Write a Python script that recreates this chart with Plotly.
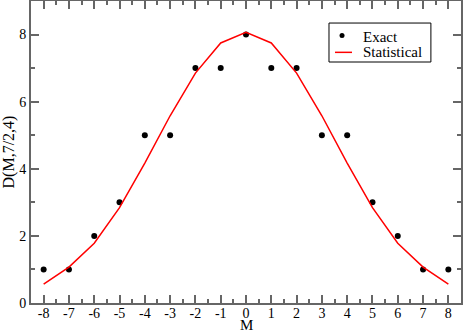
import plotly.graph_objects as go

# M values and the two series
m_values = list(range(-8, 9))
exact = [1, 1, 2, 3, 5, 5, 7, 7, 8, 7, 7, 5, 5, 3, 2, 1, 1]
statistical = [0.56, 1.07, 1.78, 2.84, 4.17, 5.58, 6.85, 7.75, 8.07,
               7.75, 6.85, 5.58, 4.17, 2.84, 1.78, 1.07, 0.56]
x_tick_labels = ["-8", "-7", "-6", "-5", "-4", "-3", "-2", "-1", "0",
                 "1", "2", "3", "4", "5", "6", "7", "8"]
y_tick_values = [0, 2, 4, 6, 8]

FONT = "Liberation Serif"
AXIS_COLOR = "#666666"

fig = go.Figure()
fig.add_trace(go.Scatter(
    x=m_values, y=exact, mode="markers", name="Exact",
    marker=dict(color="black", size=6),
))
fig.add_trace(go.Scatter(
    x=m_values, y=statistical, mode="lines", name="Statistical",
    line=dict(color="red", width=1.5),
))

axis_common = dict(
    showline=True, linecolor=AXIS_COLOR, linewidth=2, mirror="ticks",
    ticks="inside", tickcolor=AXIS_COLOR, tickwidth=1.5, ticklen=8,
    showgrid=False, zeroline=False, automargin=False,
    tickfont=dict(family=FONT, size=14, color="black"),
)

fig.update_xaxes(
    range=[-8.5, 8.5], tickmode="array", tickvals=m_values, ticktext=x_tick_labels,
    ticklabelstandoff=-4,
    minor=dict(dtick=0.5, tick0=-8, ticks="inside", ticklen=4, tickcolor=AXIS_COLOR, showgrid=False),
    **axis_common,
)
fig.update_yaxes(
    range=[0, 9], tickmode="array", tickvals=y_tick_values,
    title=dict(text="D(M,7/2,4)", font=dict(family=FONT, size=16, color="black"), standoff=3),
    minor=dict(dtick=1, tick0=0, ticks="inside", ticklen=4, tickcolor=AXIS_COLOR, showgrid=False),
    **axis_common,
)

# x-axis title placed by hand, tight under the tick labels as in the original
fig.add_annotation(
    text="M", xref="paper", yref="paper", x=0.5, y=0,
    xanchor="center", yanchor="bottom", yshift=-31, borderpad=0, showarrow=False,
    font=dict(family=FONT, size=15, color="black"),
)

# compact boxed legend in the upper right, drawn by hand so it stays as tight
# as the original (plotly's own legend rows are taller)
fig.add_shape(type="rect", xref="paper", yref="paper",
              x0=0.693, x1=0.930, y0=0.798, y1=0.927,
              line=dict(color="black", width=1), fillcolor="white", layer="above")
fig.add_shape(type="circle", xref="paper", yref="paper",
              xsizemode="pixel", ysizemode="pixel", xanchor=0.7233, yanchor=0.8858,
              x0=-2.5, x1=2.5, y0=-2.5, y1=2.5,
              line=dict(color="black", width=0), fillcolor="black", layer="above")
fig.add_shape(type="line", xref="paper", yref="paper",
              x0=0.707, x1=0.7465, y0=0.830, y1=0.830,
              line=dict(color="red", width=1.5), layer="above")
for label, y_pos in [("Exact", 0.882), ("Statistical", 0.831)]:
    fig.add_annotation(
        text=label, xref="paper", yref="paper", x=0.770, y=y_pos,
        xanchor="left", yanchor="middle", showarrow=False, borderpad=0,
        font=dict(family=FONT, size=15, color="black"),
    )

fig.update_layout(
    width=463, height=334,
    margin=dict(l=31, r=2, t=1, b=31, autoexpand=False),
    paper_bgcolor="white", plot_bgcolor="white",
    font=dict(family=FONT, color="black"),
    showlegend=False,
)

# drop the browser's default body margin so the chart sits at the window corner
fig.write_html(
    "out.html",
    config={"displayModeBar": False},
    post_script="document.body.style.margin='0';",
)
